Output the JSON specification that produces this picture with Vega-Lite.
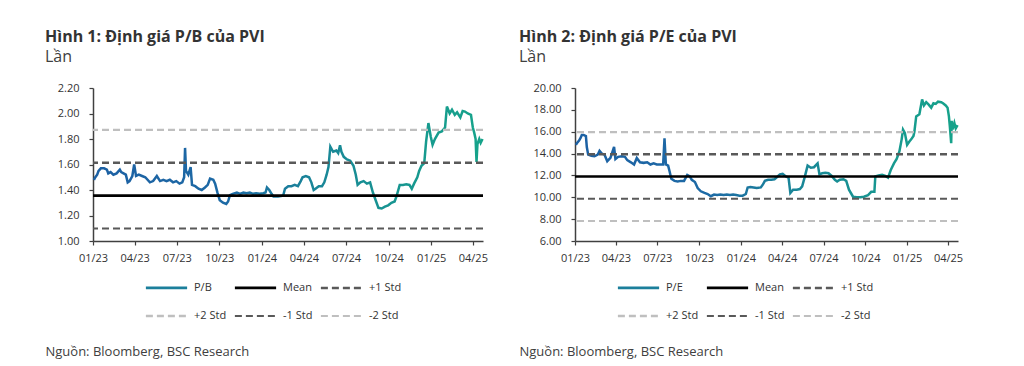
{
  "$schema": "https://vega.github.io/schema/vega-lite/v6.json",
  "padding": {"left": 45, "top": 29, "right": 5, "bottom": 5},
  "spacing": 31,
  "config": {
    "view": {"stroke": null},
    "font": "Open Sans",
    "axis": {"labelFont": "Open Sans", "labelFontSize": 11, "labelColor": "#333333", "domainColor": "#404040", "tickColor": "#404040", "domainWidth": 1.5, "tickWidth": 1.2, "tickSize": 4, "grid": false, "labelOverlap": false},
    "title": {"anchor": "start", "frame": "group", "font": "Open Sans", "fontSize": 16, "fontWeight": "bold", "color": "#333333", "subtitleFont": "Open Sans", "subtitleFontSize": 16, "subtitleColor": "#404040", "subtitlePadding": 4, "offset": 17},
    "legend": {"orient": "none", "direction": "horizontal", "columns": 3, "symbolType": "stroke", "symbolSize": 1700, "labelFont": "Open Sans", "labelFontSize": 11, "labelColor": "#333333", "labelOffset": 5, "columnPadding": 2, "rowPadding": -17, "title": null}
  },
  "resolve": {
    "scale": {"color": "independent", "strokeDash": "independent", "strokeWidth": "independent"},
    "legend": {"color": "independent", "strokeDash": "independent", "strokeWidth": "independent"}
  },
  "datasets": {
    "pb": [
      {"date": "2023-01-03", "v": 1.48}, {"date": "2023-01-06", "v": 1.50}, {"date": "2023-01-10", "v": 1.52}, {"date": "2023-01-13", "v": 1.55},
      {"date": "2023-01-18", "v": 1.57}, {"date": "2023-01-25", "v": 1.57}, {"date": "2023-01-31", "v": 1.56}, {"date": "2023-02-03", "v": 1.53},
      {"date": "2023-02-08", "v": 1.54}, {"date": "2023-02-14", "v": 1.52}, {"date": "2023-02-21", "v": 1.53}, {"date": "2023-02-28", "v": 1.56},
      {"date": "2023-03-03", "v": 1.54}, {"date": "2023-03-08", "v": 1.53}, {"date": "2023-03-13", "v": 1.52}, {"date": "2023-03-17", "v": 1.46},
      {"date": "2023-03-21", "v": 1.47}, {"date": "2023-03-27", "v": 1.51}, {"date": "2023-03-31", "v": 1.60}, {"date": "2023-04-04", "v": 1.51},
      {"date": "2023-04-10", "v": 1.52}, {"date": "2023-04-17", "v": 1.51}, {"date": "2023-04-24", "v": 1.50}, {"date": "2023-05-04", "v": 1.46},
      {"date": "2023-05-11", "v": 1.47}, {"date": "2023-05-19", "v": 1.51}, {"date": "2023-05-26", "v": 1.47}, {"date": "2023-06-02", "v": 1.48},
      {"date": "2023-06-09", "v": 1.47}, {"date": "2023-06-16", "v": 1.48}, {"date": "2023-06-23", "v": 1.46}, {"date": "2023-06-30", "v": 1.47},
      {"date": "2023-07-07", "v": 1.45}, {"date": "2023-07-13", "v": 1.46}, {"date": "2023-07-17", "v": 1.50}, {"date": "2023-07-19", "v": 1.73},
      {"date": "2023-07-21", "v": 1.55}, {"date": "2023-07-26", "v": 1.52}, {"date": "2023-07-31", "v": 1.58}, {"date": "2023-08-03", "v": 1.44},
      {"date": "2023-08-10", "v": 1.43}, {"date": "2023-08-17", "v": 1.41}, {"date": "2023-08-24", "v": 1.40}, {"date": "2023-08-31", "v": 1.42},
      {"date": "2023-09-06", "v": 1.44}, {"date": "2023-09-11", "v": 1.49}, {"date": "2023-09-18", "v": 1.48}, {"date": "2023-09-22", "v": 1.45},
      {"date": "2023-09-27", "v": 1.38}, {"date": "2023-10-02", "v": 1.32}, {"date": "2023-10-09", "v": 1.30}, {"date": "2023-10-16", "v": 1.29},
      {"date": "2023-10-20", "v": 1.31}, {"date": "2023-10-24", "v": 1.36}, {"date": "2023-10-30", "v": 1.37}, {"date": "2023-11-08", "v": 1.38},
      {"date": "2023-11-15", "v": 1.37}, {"date": "2023-11-22", "v": 1.38}, {"date": "2023-11-29", "v": 1.375}, {"date": "2023-12-06", "v": 1.38},
      {"date": "2023-12-13", "v": 1.37}, {"date": "2023-12-20", "v": 1.375}, {"date": "2023-12-27", "v": 1.37}, {"date": "2024-01-04", "v": 1.375},
      {"date": "2024-01-09", "v": 1.38}, {"date": "2024-01-12", "v": 1.42}, {"date": "2024-01-17", "v": 1.40}, {"date": "2024-01-22", "v": 1.37},
      {"date": "2024-01-26", "v": 1.35}, {"date": "2024-02-05", "v": 1.35}, {"date": "2024-02-16", "v": 1.355}, {"date": "2024-02-20", "v": 1.41},
      {"date": "2024-02-27", "v": 1.43}, {"date": "2024-03-05", "v": 1.43}, {"date": "2024-03-12", "v": 1.44}, {"date": "2024-03-19", "v": 1.43},
      {"date": "2024-03-25", "v": 1.47}, {"date": "2024-03-29", "v": 1.50}, {"date": "2024-04-05", "v": 1.51}, {"date": "2024-04-12", "v": 1.50},
      {"date": "2024-04-17", "v": 1.46}, {"date": "2024-04-22", "v": 1.40}, {"date": "2024-04-26", "v": 1.41}, {"date": "2024-05-03", "v": 1.43},
      {"date": "2024-05-10", "v": 1.43}, {"date": "2024-05-15", "v": 1.46}, {"date": "2024-05-20", "v": 1.52}, {"date": "2024-05-24", "v": 1.58},
      {"date": "2024-05-28", "v": 1.74}, {"date": "2024-06-03", "v": 1.70}, {"date": "2024-06-10", "v": 1.71}, {"date": "2024-06-14", "v": 1.69},
      {"date": "2024-06-18", "v": 1.75}, {"date": "2024-06-21", "v": 1.70}, {"date": "2024-06-26", "v": 1.66}, {"date": "2024-07-03", "v": 1.64},
      {"date": "2024-07-10", "v": 1.63}, {"date": "2024-07-17", "v": 1.59}, {"date": "2024-07-22", "v": 1.52}, {"date": "2024-07-26", "v": 1.44},
      {"date": "2024-08-01", "v": 1.46}, {"date": "2024-08-08", "v": 1.47}, {"date": "2024-08-15", "v": 1.45}, {"date": "2024-08-22", "v": 1.46},
      {"date": "2024-08-28", "v": 1.38}, {"date": "2024-09-03", "v": 1.32}, {"date": "2024-09-09", "v": 1.26}, {"date": "2024-09-16", "v": 1.255},
      {"date": "2024-09-23", "v": 1.27}, {"date": "2024-09-30", "v": 1.28}, {"date": "2024-10-07", "v": 1.30}, {"date": "2024-10-14", "v": 1.31},
      {"date": "2024-10-18", "v": 1.35}, {"date": "2024-10-25", "v": 1.44}, {"date": "2024-11-01", "v": 1.44}, {"date": "2024-11-08", "v": 1.445},
      {"date": "2024-11-15", "v": 1.44}, {"date": "2024-11-20", "v": 1.41}, {"date": "2024-11-25", "v": 1.45}, {"date": "2024-12-02", "v": 1.50},
      {"date": "2024-12-06", "v": 1.55}, {"date": "2024-12-11", "v": 1.59}, {"date": "2024-12-17", "v": 1.61}, {"date": "2024-12-21", "v": 1.78},
      {"date": "2024-12-26", "v": 1.925}, {"date": "2024-12-31", "v": 1.82}, {"date": "2025-01-04", "v": 1.755}, {"date": "2025-01-09", "v": 1.80},
      {"date": "2025-01-17", "v": 1.85}, {"date": "2025-01-24", "v": 1.86}, {"date": "2025-01-31", "v": 1.89}, {"date": "2025-02-04", "v": 2.055},
      {"date": "2025-02-10", "v": 2.00}, {"date": "2025-02-15", "v": 2.03}, {"date": "2025-02-21", "v": 1.99}, {"date": "2025-02-26", "v": 2.01},
      {"date": "2025-03-05", "v": 1.97}, {"date": "2025-03-10", "v": 2.02}, {"date": "2025-03-15", "v": 2.015}, {"date": "2025-03-21", "v": 2.00},
      {"date": "2025-03-28", "v": 1.99}, {"date": "2025-04-01", "v": 1.89}, {"date": "2025-04-04", "v": 1.85}, {"date": "2025-04-07", "v": 1.80},
      {"date": "2025-04-09", "v": 1.62}, {"date": "2025-04-11", "v": 1.76}, {"date": "2025-04-15", "v": 1.80}, {"date": "2025-04-18", "v": 1.77},
      {"date": "2025-04-22", "v": 1.80}
    ],
    "pe": [
      {"date": "2023-01-03", "v": 14.8}, {"date": "2023-01-06", "v": 15.0}, {"date": "2023-01-10", "v": 15.2}, {"date": "2023-01-13", "v": 15.4},
      {"date": "2023-01-16", "v": 15.7}, {"date": "2023-01-20", "v": 15.7}, {"date": "2023-01-25", "v": 15.6}, {"date": "2023-01-27", "v": 14.6},
      {"date": "2023-01-30", "v": 13.9}, {"date": "2023-02-06", "v": 13.8}, {"date": "2023-02-13", "v": 13.75}, {"date": "2023-02-20", "v": 13.9},
      {"date": "2023-02-24", "v": 14.25}, {"date": "2023-03-01", "v": 14.0}, {"date": "2023-03-07", "v": 13.9}, {"date": "2023-03-13", "v": 13.3},
      {"date": "2023-03-20", "v": 13.6}, {"date": "2023-03-28", "v": 14.6}, {"date": "2023-03-31", "v": 13.5}, {"date": "2023-04-06", "v": 13.7},
      {"date": "2023-04-14", "v": 13.75}, {"date": "2023-04-21", "v": 13.7}, {"date": "2023-04-26", "v": 13.4}, {"date": "2023-05-04", "v": 13.2},
      {"date": "2023-05-11", "v": 13.0}, {"date": "2023-05-17", "v": 13.6}, {"date": "2023-05-24", "v": 13.2}, {"date": "2023-06-01", "v": 13.15},
      {"date": "2023-06-09", "v": 13.2}, {"date": "2023-06-16", "v": 13.0}, {"date": "2023-06-23", "v": 13.1}, {"date": "2023-06-30", "v": 13.0},
      {"date": "2023-07-07", "v": 13.0}, {"date": "2023-07-14", "v": 13.0}, {"date": "2023-07-17", "v": 15.4}, {"date": "2023-07-20", "v": 13.0},
      {"date": "2023-07-25", "v": 12.9}, {"date": "2023-07-28", "v": 12.4}, {"date": "2023-08-01", "v": 11.7}, {"date": "2023-08-08", "v": 11.5},
      {"date": "2023-08-15", "v": 11.45}, {"date": "2023-08-22", "v": 11.5}, {"date": "2023-08-29", "v": 11.5}, {"date": "2023-09-05", "v": 12.05},
      {"date": "2023-09-11", "v": 11.9}, {"date": "2023-09-15", "v": 11.6}, {"date": "2023-09-22", "v": 11.4}, {"date": "2023-09-28", "v": 10.85},
      {"date": "2023-10-05", "v": 10.55}, {"date": "2023-10-13", "v": 10.4}, {"date": "2023-10-20", "v": 10.3}, {"date": "2023-10-27", "v": 10.1},
      {"date": "2023-11-03", "v": 10.25}, {"date": "2023-11-10", "v": 10.2}, {"date": "2023-11-17", "v": 10.25}, {"date": "2023-11-24", "v": 10.2},
      {"date": "2023-12-01", "v": 10.25}, {"date": "2023-12-08", "v": 10.2}, {"date": "2023-12-15", "v": 10.25}, {"date": "2023-12-22", "v": 10.2},
      {"date": "2023-12-29", "v": 10.15}, {"date": "2024-01-05", "v": 10.15}, {"date": "2024-01-12", "v": 10.3}, {"date": "2024-01-16", "v": 10.9},
      {"date": "2024-01-22", "v": 10.95}, {"date": "2024-01-29", "v": 10.9}, {"date": "2024-02-05", "v": 10.85}, {"date": "2024-02-14", "v": 10.9},
      {"date": "2024-02-19", "v": 11.2}, {"date": "2024-02-23", "v": 11.5}, {"date": "2024-03-01", "v": 11.6}, {"date": "2024-03-08", "v": 11.6},
      {"date": "2024-03-15", "v": 11.65}, {"date": "2024-03-22", "v": 11.9}, {"date": "2024-03-27", "v": 12.1}, {"date": "2024-04-02", "v": 12.15},
      {"date": "2024-04-09", "v": 11.9}, {"date": "2024-04-15", "v": 11.8}, {"date": "2024-04-19", "v": 10.4}, {"date": "2024-04-25", "v": 10.7},
      {"date": "2024-05-03", "v": 10.7}, {"date": "2024-05-10", "v": 10.75}, {"date": "2024-05-15", "v": 11.0}, {"date": "2024-05-20", "v": 11.75},
      {"date": "2024-05-27", "v": 12.9}, {"date": "2024-06-03", "v": 12.7}, {"date": "2024-06-10", "v": 12.75}, {"date": "2024-06-18", "v": 13.1},
      {"date": "2024-06-22", "v": 12.1}, {"date": "2024-06-28", "v": 12.2}, {"date": "2024-07-05", "v": 12.25}, {"date": "2024-07-12", "v": 12.2},
      {"date": "2024-07-19", "v": 11.95}, {"date": "2024-07-26", "v": 11.6}, {"date": "2024-07-31", "v": 11.45}, {"date": "2024-08-06", "v": 11.6},
      {"date": "2024-08-14", "v": 11.65}, {"date": "2024-08-20", "v": 11.5}, {"date": "2024-08-26", "v": 10.7}, {"date": "2024-09-04", "v": 10.05},
      {"date": "2024-09-12", "v": 10.0}, {"date": "2024-09-20", "v": 10.0}, {"date": "2024-09-28", "v": 10.05}, {"date": "2024-10-07", "v": 10.2},
      {"date": "2024-10-14", "v": 10.5}, {"date": "2024-10-21", "v": 10.5}, {"date": "2024-10-23", "v": 11.9}, {"date": "2024-10-30", "v": 12.0},
      {"date": "2024-11-07", "v": 12.05}, {"date": "2024-11-14", "v": 11.95}, {"date": "2024-11-20", "v": 11.8}, {"date": "2024-11-26", "v": 12.5},
      {"date": "2024-12-03", "v": 13.1}, {"date": "2024-12-09", "v": 13.5}, {"date": "2024-12-15", "v": 14.2}, {"date": "2024-12-20", "v": 15.3},
      {"date": "2024-12-23", "v": 16.2}, {"date": "2024-12-27", "v": 15.9}, {"date": "2025-01-01", "v": 14.8}, {"date": "2025-01-06", "v": 15.1},
      {"date": "2025-01-10", "v": 15.3}, {"date": "2025-01-15", "v": 15.6}, {"date": "2025-01-17", "v": 16.0}, {"date": "2025-01-21", "v": 17.4},
      {"date": "2025-01-28", "v": 17.6}, {"date": "2025-02-03", "v": 18.95}, {"date": "2025-02-07", "v": 18.4}, {"date": "2025-02-12", "v": 18.7},
      {"date": "2025-02-17", "v": 18.5}, {"date": "2025-02-23", "v": 18.2}, {"date": "2025-02-28", "v": 18.6}, {"date": "2025-03-05", "v": 18.55},
      {"date": "2025-03-10", "v": 18.75}, {"date": "2025-03-17", "v": 18.7}, {"date": "2025-03-21", "v": 18.6}, {"date": "2025-03-27", "v": 18.4},
      {"date": "2025-03-31", "v": 18.2}, {"date": "2025-04-03", "v": 17.4}, {"date": "2025-04-05", "v": 16.5}, {"date": "2025-04-08", "v": 14.95},
      {"date": "2025-04-09", "v": 17.0}, {"date": "2025-04-11", "v": 16.2}, {"date": "2025-04-15", "v": 16.8}, {"date": "2025-04-18", "v": 16.3},
      {"date": "2025-04-22", "v": 16.6}
    ],
    "rpb": [
      {"series": "Mean", "value": 1.356}, {"series": "+1 Std", "value": 1.614}, {"series": "+2 Std", "value": 1.872}, {"series": "-1 Std", "value": 1.098}
    ],
    "rpe": [
      {"series": "Mean", "value": 11.9}, {"series": "+1 Std", "value": 13.93}, {"series": "+2 Std", "value": 15.96}, {"series": "-1 Std", "value": 9.87}, {"series": "-2 Std", "value": 7.84}
    ]
  },
  "hconcat": [
    {
      "width": 390,
      "height": 153,
      "title": {"text": "Hình 1: Định giá P/B của PVI", "subtitle": "Lần", "dx": -48},
      "layer": [
        {
          "data": {"name": "pb"},
          "mark": {"type": "line", "strokeWidth": 2.5, "stroke": {"gradient": "linear", "x1": 0, "x2": 1, "y1": 0, "y2": 0, "stops": [{"offset": 0, "color": "#1c60a3"}, {"offset": 0.35, "color": "#1d6aa5"}, {"offset": 0.55, "color": "#1a8499"}, {"offset": 0.8, "color": "#179790"}, {"offset": 1, "color": "#16a38a"}]}},
          "encoding": {
            "x": {"field": "date", "type": "temporal",
              "scale": {"type": "utc", "nice": false, "domain": [{"year": 2023, "month": 1, "date": 1, "utc": true}, {"year": 2025, "month": 4, "date": 23, "utc": true}]},
              "axis": {"format": "%m/%y", "labelFlush": false, "labelOverlap": false, "labelPadding": 7,
                "values": [{"year": 2023, "month": 1, "date": 1, "utc": true}, {"year": 2023, "month": 4, "date": 1, "utc": true}, {"year": 2023, "month": 7, "date": 1, "utc": true}, {"year": 2023, "month": 10, "date": 1, "utc": true}, {"year": 2024, "month": 1, "date": 1, "utc": true}, {"year": 2024, "month": 4, "date": 1, "utc": true}, {"year": 2024, "month": 7, "date": 1, "utc": true}, {"year": 2024, "month": 10, "date": 1, "utc": true}, {"year": 2025, "month": 1, "date": 1, "utc": true}, {"year": 2025, "month": 4, "date": 1, "utc": true}],
                "title": "Nguồn: Bloomberg, BSC Research", "titleFont": "Open Sans", "titleFontSize": 13, "titleFontWeight": "normal", "titleColor": "#404040", "titleAnchor": "start", "titleAlign": "left", "titleBaseline": "middle", "titleX": -48, "titleY": 110}},
            "y": {"field": "v", "type": "quantitative",
              "scale": {"domain": [1, 2.2], "nice": false, "zero": false},
              "axis": {"values": [1, 1.2, 1.4, 1.6, 1.8, 2, 2.2], "format": ".2f", "labelOverlap": false, "labelPadding": 10, "title": null}}
          }
        },
        {
          "data": {"name": "rpb"},
          "mark": {"type": "rule"},
          "encoding": {
            "y": {"field": "value", "type": "quantitative", "axis": {"values": [1, 1.2, 1.4, 1.6, 1.8, 2, 2.2], "format": ".2f", "labelOverlap": false, "labelPadding": 10, "title": null}},
            "color": {"field": "series", "type": "nominal",
              "scale": {"domain": ["P/B", "Mean", "+1 Std", "+2 Std", "-1 Std", "-2 Std"], "range": ["#1b7f9b", "#000000", "#595959", "#bfbfbf", "#595959", "#bfbfbf"]},
              "legend": {"legendX": 51, "legendY": 177}},
            "strokeDash": {"field": "series", "type": "nominal",
              "scale": {"domain": ["P/B", "Mean", "+1 Std", "+2 Std", "-1 Std", "-2 Std"], "range": [[1, 0], [1, 0], [7, 4], [7, 4], [7, 4], [7, 4]]},
              "legend": {"legendX": 51, "legendY": 177}},
            "strokeWidth": {"field": "series", "type": "nominal",
              "scale": {"domain": ["P/B", "Mean", "+1 Std", "+2 Std", "-1 Std", "-2 Std"], "range": [2.8, 2, 1.8, 1.8, 1.8, 1.8]},
              "legend": {"legendX": 51, "legendY": 177}}
          }
        }
      ]
    },
    {
      "width": 383,
      "height": 153,
      "title": {"text": "Hình 2: Định giá P/E của PVI", "subtitle": "Lần", "dx": -56},
      "layer": [
        {
          "data": {"name": "pe"},
          "mark": {"type": "line", "strokeWidth": 2.5, "stroke": {"gradient": "linear", "x1": 0, "x2": 1, "y1": 0, "y2": 0, "stops": [{"offset": 0, "color": "#1c60a3"}, {"offset": 0.35, "color": "#1d6aa5"}, {"offset": 0.55, "color": "#1a8499"}, {"offset": 0.8, "color": "#179790"}, {"offset": 1, "color": "#16a38a"}]}},
          "encoding": {
            "x": {"field": "date", "type": "temporal",
              "scale": {"type": "utc", "nice": false, "domain": [{"year": 2023, "month": 1, "date": 1, "utc": true}, {"year": 2025, "month": 4, "date": 23, "utc": true}]},
              "axis": {"format": "%m/%y", "labelFlush": false, "labelOverlap": false, "labelPadding": 7,
                "values": [{"year": 2023, "month": 1, "date": 1, "utc": true}, {"year": 2023, "month": 4, "date": 1, "utc": true}, {"year": 2023, "month": 7, "date": 1, "utc": true}, {"year": 2023, "month": 10, "date": 1, "utc": true}, {"year": 2024, "month": 1, "date": 1, "utc": true}, {"year": 2024, "month": 4, "date": 1, "utc": true}, {"year": 2024, "month": 7, "date": 1, "utc": true}, {"year": 2024, "month": 10, "date": 1, "utc": true}, {"year": 2025, "month": 1, "date": 1, "utc": true}, {"year": 2025, "month": 4, "date": 1, "utc": true}],
                "title": "Nguồn: Bloomberg, BSC Research", "titleFont": "Open Sans", "titleFontSize": 13, "titleFontWeight": "normal", "titleColor": "#404040", "titleAnchor": "start", "titleAlign": "left", "titleBaseline": "middle", "titleX": -56, "titleY": 110}},
            "y": {"field": "v", "type": "quantitative",
              "scale": {"domain": [6, 20], "nice": false, "zero": false},
              "axis": {"values": [6, 8, 10, 12, 14, 16, 18, 20], "format": ".2f", "labelOverlap": false, "labelPadding": 10, "title": null}}
          }
        },
        {
          "data": {"name": "rpe"},
          "mark": {"type": "rule"},
          "encoding": {
            "y": {"field": "value", "type": "quantitative", "axis": {"values": [6, 8, 10, 12, 14, 16, 18, 20], "format": ".2f", "labelOverlap": false, "labelPadding": 10, "title": null}},
            "color": {"field": "series", "type": "nominal",
              "scale": {"domain": ["P/E", "Mean", "+1 Std", "+2 Std", "-1 Std", "-2 Std"], "range": ["#1b7f9b", "#000000", "#595959", "#bfbfbf", "#595959", "#bfbfbf"]},
              "legend": {"legendX": 41, "legendY": 177}},
            "strokeDash": {"field": "series", "type": "nominal",
              "scale": {"domain": ["P/E", "Mean", "+1 Std", "+2 Std", "-1 Std", "-2 Std"], "range": [[1, 0], [1, 0], [7, 4], [7, 4], [7, 4], [7, 4]]},
              "legend": {"legendX": 41, "legendY": 177}},
            "strokeWidth": {"field": "series", "type": "nominal",
              "scale": {"domain": ["P/E", "Mean", "+1 Std", "+2 Std", "-1 Std", "-2 Std"], "range": [2.8, 2, 1.8, 1.8, 1.8, 1.8]},
              "legend": {"legendX": 41, "legendY": 177}}
          }
        }
      ]
    }
  ]
}
